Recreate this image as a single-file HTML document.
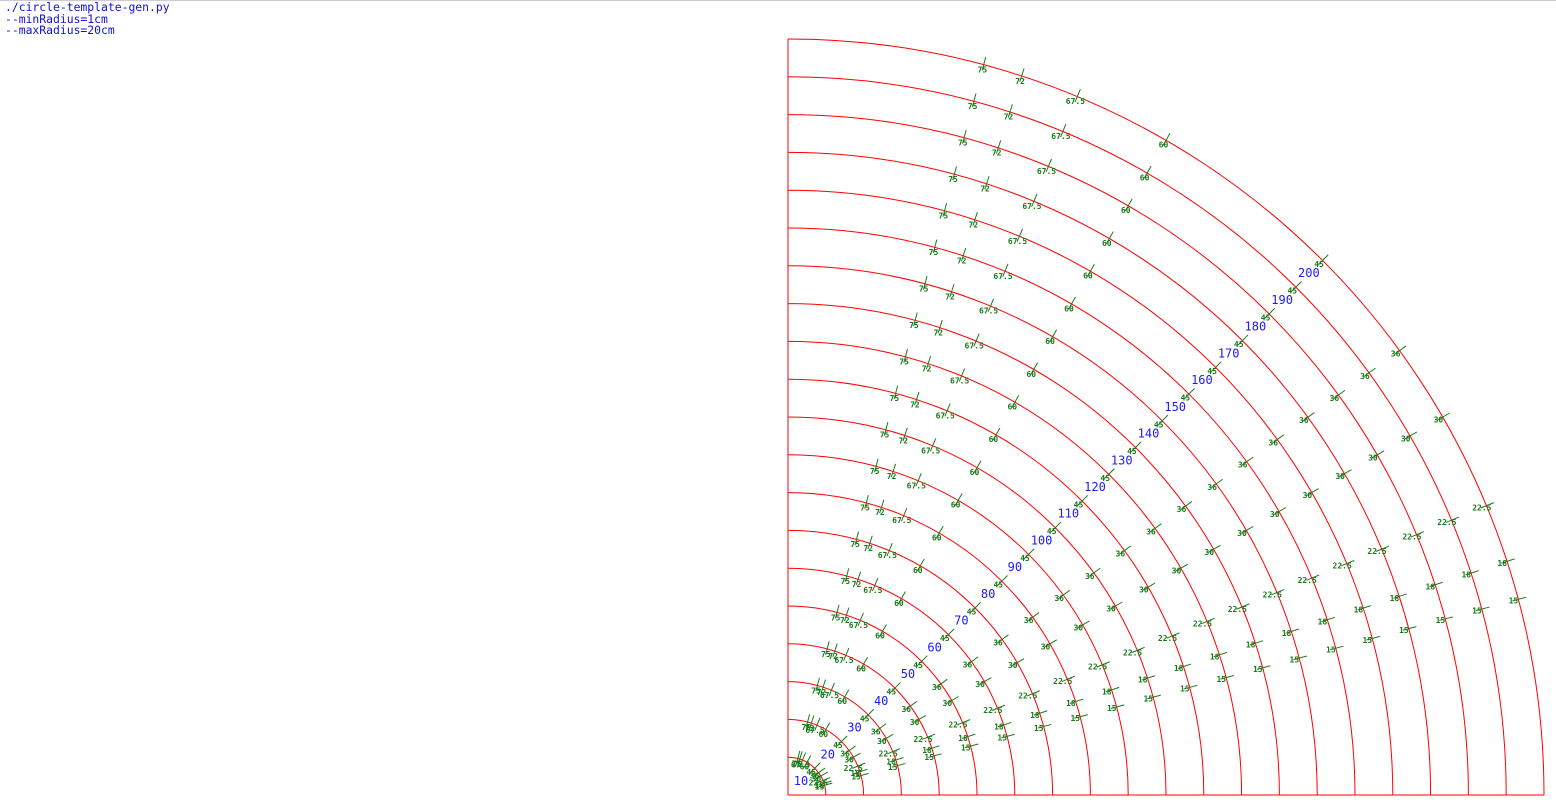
<!DOCTYPE html>
<html><head><meta charset="utf-8"><style>
html,body{margin:0;padding:0;background:#fff;width:1556px;height:805px;overflow:hidden}
#hdr{position:absolute;left:5px;top:2px;font:11.4px/11.7px "DejaVu Sans Mono","Liberation Mono",monospace;color:#1010e0;white-space:pre}
#topline{position:absolute;left:0;top:0;width:1556px;height:1px;background:#ccc}
svg{position:absolute;left:0;top:0}
</style></head><body>
<div id="topline"></div>
<div id="hdr">./circle-template-gen.py
--minRadius=1cm
--maxRadius=20cm</div>
<svg id="chart" width="1556" height="805"></svg>
<script>
const radii = [10,20,30,40,50,60,70,80,90,100,110,120,130,140,150,160,170,180,190,200];
const tickAngles = [15,18,22.5,30,36,45,60,67.5,72,75];
const tickLabels = ["15","18","22.5","30","36","45","60","67.5","72","75"];
const cx = 788, cy = 795, scale = 756/200;
const svg = document.getElementById('chart');
const NS = 'http://www.w3.org/2000/svg';
function px(r){return r*scale;}
function pt(rp,deg){const a=deg*Math.PI/180;return [cx+rp*Math.cos(a), cy-rp*Math.sin(a)];}
function mk(tag,attrs){const e=document.createElementNS(NS,tag);for(const k in attrs)e.setAttribute(k,attrs[k]);svg.appendChild(e);return e;}
radii.forEach((r,i)=>{
  const R=px(r);
  const arc=mk('path',{d:`M ${cx} ${cy-R} A ${R} ${R} 0 0 1 ${cx+R} ${cy}`,fill:'none',stroke:'#ff0000','stroke-width':1});
  
  
  tickAngles.forEach((a,j)=>{
    const p1=pt(R-6,a), p2=pt(R+8,a);
    const t=mk('line',{x1:p1[0],y1:p1[1],x2:p2[0],y2:p2[1],stroke:'#1a7a1a','stroke-width':1});
    
    
    const lp=pt(R-5,a);
    const tx=mk('text',{x:lp[0],y:lp[1]+3,'text-anchor':'middle',fill:'#1a7a1a','font-size':8,'font-weight':'bold','font-family':'"DejaVu Sans Mono","Liberation Mono",monospace'});
    tx.textContent=tickLabels[j];
    
    
  });
  const bp=pt(R-18,45);
  const bl=mk('text',{x:bp[0]-1,y:bp[1]+4,'text-anchor':'middle',fill:'#1a1aff','font-size':12,'font-family':'"DejaVu Sans Mono","Liberation Mono",monospace'});
  bl.textContent=String(r);
  
  
});
const ax1=mk('line',{x1:cx,y1:cy,x2:cx,y2:cy-px(200),stroke:'#ff0000','stroke-width':1});


const ax2=mk('line',{x1:cx,y1:cy,x2:cx+px(200),y2:cy,stroke:'#ff0000','stroke-width':1});


</script>
</body></html>
